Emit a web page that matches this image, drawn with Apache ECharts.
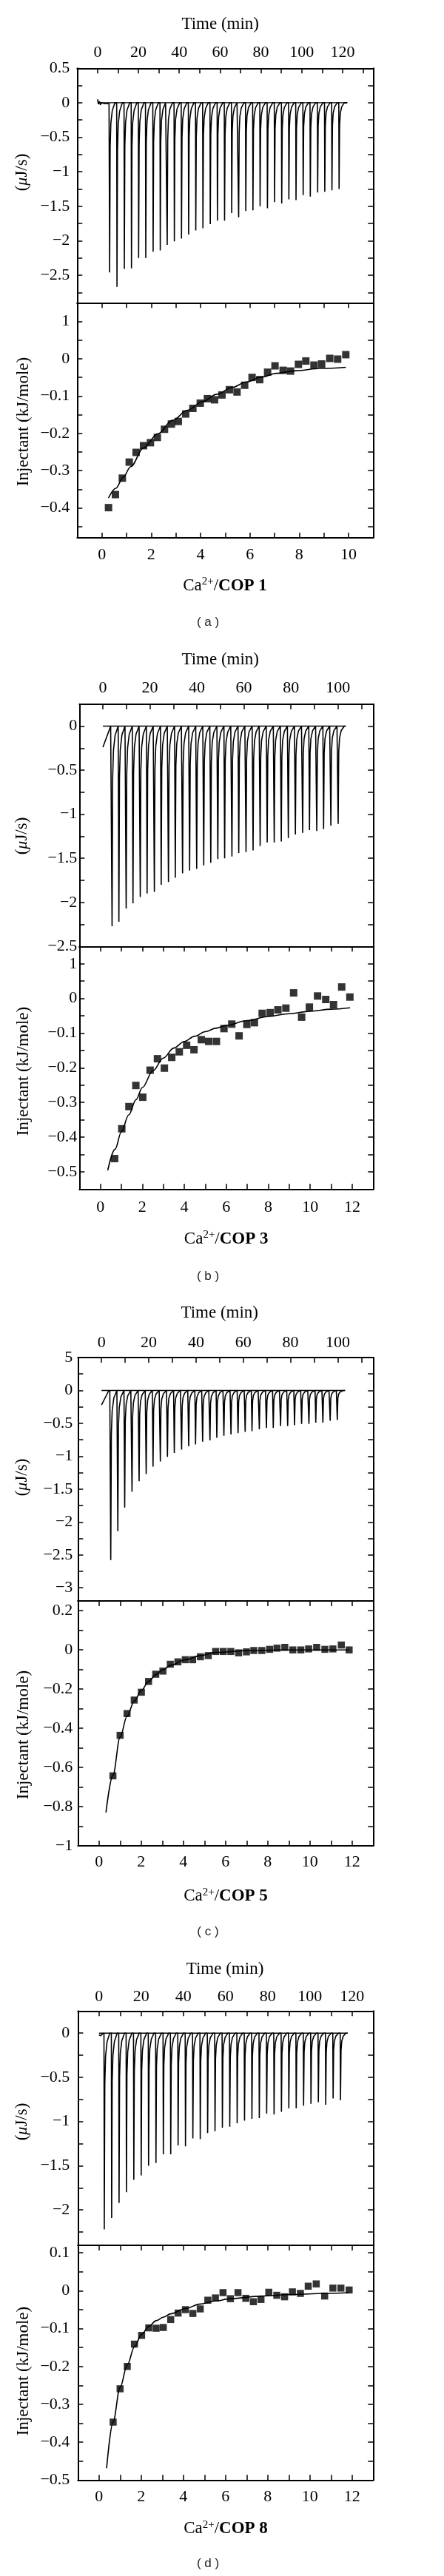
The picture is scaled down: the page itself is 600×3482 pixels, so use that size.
<!DOCTYPE html>
<html>
<head>
<meta charset="utf-8">
<script src="https://cdn.jsdelivr.net/npm/echarts@6.0.0/dist/echarts.min.js"></script>
<style>html,body{margin:0;padding:0;background:#fff}#c{width:600px;height:3482px}</style>
</head>
<body>
<div id="c"></div>
<script>
// ---------------- DATA ----------------
// Panel (a) – COP 1
const aPreT = [0, 0.4, 0.9, 1.4, 1.9, 2.5, 3.1, 3.7, 4.3, 5.0, 5.6];
const aPreV = [0.05, -0.02, 0.02, -0.03, 0.0, -0.02, -0.01, -0.02, -0.01, -0.02, -0.01];
const aSpikeT = [5.9, 9.5, 13.1, 16.6, 20.1, 23.6, 27.2, 30.7, 34.1, 37.6, 41.1, 44.6, 48.1, 51.6, 55.2, 58.7, 62.2, 65.7, 69.1, 72.6, 76.1, 79.6, 83.2, 86.7, 90.2, 93.7, 97.2, 100.7, 104.2, 107.8, 111.3, 114.8, 118.3];
const aSpikeD = [-2.46, -2.67, -2.41, -2.40, -2.25, -2.25, -2.16, -2.14, -2.06, -2.01, -1.97, -1.91, -1.85, -1.82, -1.76, -1.71, -1.71, -1.60, -1.66, -1.57, -1.56, -1.50, -1.53, -1.44, -1.46, -1.40, -1.41, -1.34, -1.36, -1.30, -1.29, -1.27, -1.25];
const aBase = [0, 122.3];
const aX = [0.27, 0.55, 0.83, 1.11, 1.39, 1.69, 1.97, 2.25, 2.54, 2.82, 3.10, 3.40, 3.69, 3.99, 4.28, 4.57, 4.87, 5.17, 5.48, 5.79, 6.09, 6.40, 6.72, 7.02, 7.35, 7.65, 7.97, 8.27, 8.60, 8.91, 9.24, 9.56, 9.89];
const aY = [-0.399, -0.364, -0.320, -0.277, -0.251, -0.233, -0.225, -0.211, -0.189, -0.175, -0.168, -0.148, -0.133, -0.119, -0.107, -0.110, -0.097, -0.083, -0.089, -0.071, -0.050, -0.056, -0.036, -0.019, -0.031, -0.033, -0.015, -0.006, -0.017, -0.014, 0.001, -0.001, 0.011];
const aFitX = [0.27, 0.57, 0.87, 1.17, 1.69, 2.27, 2.87, 3.47, 4.07, 4.67, 5.27, 5.87, 6.47, 7.07, 7.87, 8.87, 9.89];
const aFitY = [-0.373, -0.347, -0.317, -0.289, -0.239, -0.201, -0.165, -0.138, -0.115, -0.095, -0.077, -0.062, -0.049, -0.039, -0.032, -0.026, -0.023];

// Panel (b) – COP 3
const bPreT = [0, 3.3];
const bPreV = [-0.24, 0];
const bSpikeT = [3.9, 6.8, 9.9, 12.8, 15.9, 18.8, 21.9, 24.8, 27.9, 30.8, 33.9, 36.9, 39.9, 42.9, 45.9, 48.9, 51.8, 54.9, 57.8, 60.9, 63.9, 66.9, 69.9, 72.9, 75.9, 78.9, 81.9, 85.0, 87.9, 91.0, 93.9, 97.0, 100.1];
const bSpikeD = [-2.27, -2.22, -2.07, -2.01, -1.94, -1.90, -1.88, -1.80, -1.77, -1.72, -1.67, -1.64, -1.62, -1.58, -1.55, -1.51, -1.50, -1.48, -1.44, -1.43, -1.41, -1.36, -1.32, -1.32, -1.31, -1.27, -1.23, -1.21, -1.18, -1.19, -1.17, -1.13, -1.11];
const bBase = [0, 103.3];
const bX = [0.68, 1.02, 1.36, 1.69, 2.02, 2.37, 2.72, 3.05, 3.40, 3.76, 4.11, 4.46, 4.81, 5.16, 5.53, 5.89, 6.26, 6.61, 6.98, 7.34, 7.71, 8.09, 8.46, 8.84, 9.21, 9.59, 9.96, 10.35, 10.74, 11.11, 11.50, 11.89];
const bY = [-0.462, -0.376, -0.312, -0.251, -0.285, -0.207, -0.174, -0.201, -0.170, -0.154, -0.135, -0.148, -0.119, -0.124, -0.124, -0.087, -0.074, -0.108, -0.075, -0.070, -0.043, -0.041, -0.033, -0.028, 0.016, -0.054, -0.025, 0.007, -0.003, -0.018, 0.033, 0.004];
const bFitX = [0.35, 0.7, 1.0, 1.35, 1.7, 2.0, 2.5, 3.0, 3.5, 4.0, 4.5, 5.0, 5.5, 6.0, 7.0, 8.0, 9.0, 10.0, 11.0, 11.9];
const bFitY = [-0.496, -0.435, -0.385, -0.336, -0.292, -0.257, -0.209, -0.172, -0.143, -0.124, -0.109, -0.096, -0.086, -0.078, -0.064, -0.052, -0.044, -0.037, -0.031, -0.027];

// Panel (c) – COP 5
const cPreT = [0, 2.8, 3.5];
const cPreV = [-0.22, -0.02, 0];
const cSpikeT = [3.9, 6.9, 9.8, 12.9, 15.9, 18.9, 21.8, 24.9, 27.9, 30.8, 33.9, 36.9, 39.8, 42.8, 45.9, 48.8, 51.8, 54.8, 57.8, 60.8, 63.7, 66.8, 69.8, 72.7, 75.8, 78.8, 81.7, 84.7, 87.8, 90.7, 93.7, 96.8, 99.8];
const cSpikeD = [-2.58, -2.14, -1.78, -1.54, -1.38, -1.27, -1.16, -1.08, -1.01, -0.95, -0.90, -0.85, -0.82, -0.78, -0.76, -0.72, -0.69, -0.67, -0.65, -0.63, -0.62, -0.59, -0.57, -0.57, -0.54, -0.54, -0.53, -0.51, -0.51, -0.49, -0.49, -0.46, -0.45];
const cBase = [0, 103.1];
const cX = [0.66, 1.00, 1.33, 1.67, 2.01, 2.35, 2.69, 3.03, 3.38, 3.74, 4.09, 4.44, 4.81, 5.18, 5.53, 5.89, 6.25, 6.62, 6.99, 7.34, 7.72, 8.09, 8.44, 8.81, 9.19, 9.57, 9.94, 10.32, 10.71, 11.09, 11.49, 11.86];
const cY = [-0.643, -0.436, -0.325, -0.256, -0.216, -0.161, -0.124, -0.108, -0.073, -0.061, -0.050, -0.050, -0.035, -0.029, -0.008, -0.008, -0.008, -0.015, -0.010, -0.003, -0.003, 0.003, 0.009, 0.013, 0.000, 0.000, 0.005, 0.013, 0.003, 0.005, 0.025, 0.000];
const cFitX = [0.33, 0.66, 1.0, 1.33, 1.67, 2.01, 2.35, 2.69, 3.03, 3.38, 4.09, 4.81, 5.53, 6.99, 8.5, 10.0, 11.86];
const cFitY = [-0.830, -0.640, -0.445, -0.338, -0.262, -0.206, -0.161, -0.126, -0.101, -0.079, -0.050, -0.029, -0.013, -0.004, 0.0, 0.0, 0.0];

// Panel (d) – COP 8
const dPreT = [0, 0.8, 1.6, 2.3];
const dPreV = [-0.02, -0.03, -0.01, -0.01];
const dSpikeT = [2.5, 6.0, 9.5, 13.0, 16.5, 20.0, 23.5, 27.0, 30.5, 34.0, 37.5, 41.0, 44.5, 48.0, 51.5, 55.0, 58.5, 62.0, 65.5, 69.0, 72.5, 76.0, 79.5, 83.0, 86.5, 90.0, 93.5, 97.0, 100.5, 104.0, 107.5, 111.0, 114.5];
const dSpikeD = [-2.22, -2.09, -1.92, -1.80, -1.66, -1.61, -1.50, -1.47, -1.37, -1.37, -1.27, -1.28, -1.19, -1.20, -1.13, -1.11, -1.07, -1.06, -1.02, -0.99, -0.97, -0.96, -0.91, -0.92, -0.89, -0.85, -0.85, -0.82, -0.80, -0.78, -0.81, -0.74, -0.76];
const dBase = [0, 117.9];
const dX = [0.67, 1.00, 1.34, 1.68, 2.02, 2.36, 2.71, 3.05, 3.40, 3.75, 4.10, 4.45, 4.80, 5.16, 5.52, 5.88, 6.23, 6.59, 6.96, 7.32, 7.68, 8.05, 8.43, 8.80, 9.17, 9.55, 9.92, 10.30, 10.70, 11.09, 11.47, 11.86];
const dY = [-0.347, -0.259, -0.200, -0.141, -0.118, -0.098, -0.099, -0.097, -0.076, -0.059, -0.050, -0.060, -0.048, -0.025, -0.019, -0.005, -0.021, -0.005, -0.020, -0.029, -0.023, -0.004, -0.012, -0.016, -0.003, -0.007, 0.012, 0.018, -0.014, 0.007, 0.007, 0.002];
const dFitX = [0.36, 0.67, 1.0, 1.34, 1.68, 2.02, 2.36, 2.71, 3.05, 3.40, 4.10, 4.80, 5.52, 6.23, 7.68, 9.17, 10.70, 11.86];
const dFitY = [-0.469, -0.346, -0.255, -0.196, -0.148, -0.115, -0.094, -0.079, -0.070, -0.061, -0.047, -0.035, -0.027, -0.021, -0.014, -0.010, -0.007, -0.005];

// Injection peak shape (time offsets in min, fraction of peak depth)
const spikeDt = [-0.15, 0, 0.25, 0.6, 1.3, 2.6];
const spikeFrac = [0, 1, 0.26, 0.12, 0.045, 0];

// Tick labels
const aTimeTicks = [0, 20, 40, 60, 80, 100, 120];
const aTopYTicks = [0.5, 0, -0.5, -1, -1.5, -2, -2.5];
const aTopYLabels = ['0.5', '0', '−0.5', '−1', '−1.5', '−2', '−2.5'];
const aBotYTicks = [0.1, 0, -0.1, -0.2, -0.3, -0.4];
const aBotYLabels = ['1', '0', '−0.1', '−0.2', '−0.3', '−0.4'];
const aRatioTicks = [0, 2, 4, 6, 8, 10];

const bTimeTicks = [0, 20, 40, 60, 80, 100];
const bTopYTicks = [0, -0.5, -1, -1.5, -2, -2.5];
const bTopYLabels = ['0', '−0.5', '−1', '−1.5', '−2', '−2.5'];
const bBotYTicks = [0.1, 0, -0.1, -0.2, -0.3, -0.4, -0.5];
const bBotYLabels = ['1', '0', '−0.1', '−0.2', '−0.3', '−0.4', '−0.5'];
const bRatioTicks = [0, 2, 4, 6, 8, 10, 12];

const cTimeTicks = [0, 20, 40, 60, 80, 100];
const cTopYTicks = [0.5, 0, -0.5, -1, -1.5, -2, -2.5, -3];
const cTopYLabels = ['5', '0', '−0.5', '−1', '−1.5', '−2', '−2.5', '−3'];
const cBotYTicks = [0.2, 0, -0.2, -0.4, -0.6, -0.8, -1];
const cBotYLabels = ['0.2', '0', '−0.2', '−0.4', '−0.6', '−0.8', '−1'];
const cRatioTicks = [0, 2, 4, 6, 8, 10, 12];

const dTimeTicks = [0, 20, 40, 60, 80, 100, 120];
const dTopYTicks = [0, -0.5, -1, -1.5, -2];
const dTopYLabels = ['0', '−0.5', '−1', '−1.5', '−2'];
const dBotYTicks = [0.1, 0, -0.1, -0.2, -0.3, -0.4, -0.5];
const dBotYLabels = ['0.1', '0', '−0.1', '−0.2', '−0.3', '−0.4', '−0.5'];
const dRatioTicks = [0, 2, 4, 6, 8, 10, 12];

const panelTags = ['( a )', '( b )', '( c )', '( d )'];
const copNames = ['COP 1', 'COP 3', 'COP 5', 'COP 8'];

// ---------------- BUILD ----------------
const FONT = '"Liberation Serif","Times New Roman",serif';
function steps(a, b, s) { const r = []; const n = Math.round((b - a) / s); for (let i = 0; i <= n; i++) r.push(+(a + i * s).toFixed(6)); return r; }
function numLabels(v) { return v.map(x => String(x).replace('-', '−')); }
function zip(x, y) { return x.map((v, i) => [v, y[i]]); }
function buildTrace(preT, preV, T, D, end) {
  const pts = zip(preT, preV);
  T.forEach((t, i) => spikeDt.forEach((dt, j) => pts.push([t + dt, D[i] * spikeFrac[j]])));
  pts.push([end, 0]);
  return pts;
}

const panels = [
  { L: {top: 92.3, mid: 409.3, bot: 727, left: 104.3, yMargin: 10, xtMargin: 10, xbMargin: 12},
    tx: [-10, 135], ty: [-2.9, 0.5], bx: [-1, 11], by: [-0.48, 0.15],
    txTicks: steps(0, 130, 10), tyTicks: steps(-2.75, 0.25, 0.25), bxTicks: steps(0, 10, 1), byTicks: steps(-0.45, 0.1, 0.05),
    txLab: [aTimeTicks, numLabels(aTimeTicks)], tyLab: [aTopYTicks, aTopYLabels], bxLab: [aRatioTicks, numLabels(aRatioTicks)], byLab: [aBotYTicks, aBotYLabels],
    trace: buildTrace(aPreT, aPreV, aSpikeT, aSpikeD, aBase[1]), base: aBase, pts: zip(aX, aY), fit: zip(aFitX, aFitY), sym: 10,
    titleTop: [297.7, 33], titleBot: [304, 791.7], tag: [281, 841.7], yName1: 233, yName2: 570 },
  { L: {top: 951.7, mid: 1279.3, bot: 1607.3, left: 107.3, yMargin: 3, xtMargin: 10, xbMargin: 14},
    tx: [-10, 115], ty: [-2.5, 0.25], bx: [-1, 13], by: [-0.55, 0.15],
    txTicks: steps(0, 110, 10), tyTicks: steps(-2.25, 0, 0.25), bxTicks: steps(0, 12, 1), byTicks: steps(-0.5, 0.1, 0.05),
    txLab: [bTimeTicks, numLabels(bTimeTicks)], tyLab: [bTopYTicks, bTopYLabels], bxLab: [bRatioTicks, numLabels(bRatioTicks)], byLab: [bBotYTicks, bBotYLabels],
    trace: buildTrace(bPreT, bPreV, bSpikeT, bSpikeD, bBase[1]), base: bBase, pts: zip(bX, bY), fit: zip(bFitX, bFitY), sym: 10,
    titleTop: [297.7, 891.7], titleBot: [305.7, 1675], tag: [281, 1725], yName1: 1130, yName2: 1448 },
  { L: {top: 1835, mid: 2164, bot: 2495, left: 105.3, yMargin: 7, xtMargin: 9, xbMargin: 11},
    tx: [-10, 115], ty: [-3.2, 0.5], bx: [-1, 13], by: [-1, 0.25],
    txTicks: steps(0, 110, 10), tyTicks: steps(-3, 0.25, 0.25), bxTicks: steps(0, 12, 1), byTicks: steps(-0.9, 0.2, 0.1),
    txLab: [cTimeTicks, numLabels(cTimeTicks)], tyLab: [cTopYTicks, cTopYLabels], bxLab: [cRatioTicks, numLabels(cRatioTicks)], byLab: [cBotYTicks, cBotYLabels],
    trace: buildTrace(cPreT, cPreV, cSpikeT, cSpikeD, cBase[1]), base: cBase, pts: zip(cX, cY), fit: zip(cFitX, cFitY), sym: 9.5,
    titleTop: [296.7, 1775], titleBot: [305, 2563.3], tag: [281, 2611.7], yName1: 1997, yName2: 2345 },
  { L: {top: 2718.3, mid: 3035, bot: 3352.3, left: 105.3, yMargin: 11, xtMargin: 8, xbMargin: 12},
    tx: [-10, 130], ty: [-2.4, 0.25], bx: [-1, 13], by: [-0.5, 0.12],
    txTicks: steps(0, 120, 10), tyTicks: steps(-2.25, 0, 0.25), bxTicks: steps(0, 12, 1), byTicks: steps(-0.45, 0.1, 0.05),
    txLab: [dTimeTicks, numLabels(dTimeTicks)], tyLab: [dTopYTicks, dTopYLabels], bxLab: [dRatioTicks, numLabels(dRatioTicks)], byLab: [dBotYTicks, dBotYLabels],
    trace: buildTrace(dPreT, dPreV, dSpikeT, dSpikeD, dBase[1]), base: dBase, pts: zip(dX, dY), fit: zip(dFitX, dFitY), sym: 9.5,
    titleTop: [304, 2661.7], titleBot: [305, 3418.3], tag: [281, 3465], yName1: 2868, yName2: 3205 }
];

function mkAxis(gi, pos, range, ticks, lab, margin) {
  return {
    type: 'value', gridIndex: gi, position: pos, min: range[0], max: range[1],
    splitLine: {show: false}, minorTick: {show: false}, minorSplitLine: {show: false},
    axisLine: {show: true, onZero: false, lineStyle: {color: '#000', width: 2}},
    axisTick: ticks ? {show: true, inside: true, length: 7, customValues: ticks, lineStyle: {color: '#000', width: 1.5}} : {show: false},
    axisLabel: lab ? {show: true, customValues: lab[0], margin: margin, color: '#000', fontFamily: FONT, fontSize: 22,
      formatter: v => { const i = lab[0].findIndex(x => Math.abs(x - v) < 1e-9); return i >= 0 ? lab[1][i] : ''; }} : {show: false},
    axisPointer: {show: false}
  };
}

const grid = [], xAxis = [], yAxis = [], series = [], graphic = [];
const richBase = {
  r: {fontFamily: FONT, fontSize: 23, fill: '#000', lineHeight: 30},
  s: {fontFamily: FONT, fontSize: 15, fill: '#000', lineHeight: 30, verticalAlign: 'top', padding: [2, 0, 0, 0]},
  b: {fontFamily: FONT, fontSize: 23, fontWeight: 'bold', fill: '#000', lineHeight: 30},
  i: {fontFamily: FONT, fontSize: 22, fontStyle: 'italic', fill: '#000', lineHeight: 30}
};
function txt(x, y, text, opts) {
  return Object.assign({type: 'text', x: x, y: y, silent: true,
    style: Object.assign({text: text, fill: '#000', font: '23px ' + FONT, align: 'center', verticalAlign: 'middle', textAlign: 'center', textVerticalAlign: 'middle'}, opts || {})});
}

panels.forEach((p, k) => {
  const gT = 2 * k, gB = 2 * k + 1, L = p.L;
  grid.push({left: L.left, right: 95.7, top: L.top, height: L.mid - L.top, outerBoundsMode: 'none', containLabel: false});
  grid.push({left: L.left, right: 95.7, top: L.mid, height: L.bot - L.mid, outerBoundsMode: 'none', containLabel: false});
  // top grid axes
  xAxis.push(mkAxis(gT, 'top', p.tx, p.txTicks, p.txLab, L.xtMargin));
  xAxis.push(mkAxis(gT, 'bottom', p.tx, null, null, 0));
  yAxis.push(mkAxis(gT, 'left', p.ty, p.tyTicks, p.tyLab, L.yMargin));
  yAxis.push(mkAxis(gT, 'right', p.ty, p.tyTicks, null, 0));
  // bottom grid axes
  xAxis.push(mkAxis(gB, 'bottom', p.bx, p.bxTicks, p.bxLab, L.xbMargin));
  xAxis.push(mkAxis(gB, 'top', p.bx, p.bxTicks, null, 0));
  yAxis.push(mkAxis(gB, 'left', p.by, p.byTicks, p.byLab, L.yMargin));
  yAxis.push(mkAxis(gB, 'right', p.by, p.byTicks, null, 0));

  const xT = 2 * gT, xB = 2 * gB;
  series.push({type: 'line', xAxisIndex: xT, yAxisIndex: xT, data: [[p.base[0], 0], [p.base[1], 0]], symbol: 'none', lineStyle: {color: '#000', width: 1.4}, z: 2});
  series.push({type: 'line', xAxisIndex: xT, yAxisIndex: xT, data: p.trace, symbol: 'none', lineStyle: {color: '#000', width: 1.6}, z: 3});
  series.push({type: 'line', xAxisIndex: xB, yAxisIndex: xB, data: p.fit, symbol: 'none', smooth: 0.35, smoothMonotone: 'x', lineStyle: {color: '#000', width: 1.6}, z: 3});
  series.push({type: 'scatter', xAxisIndex: xB, yAxisIndex: xB, data: p.pts, symbol: 'rect', symbolSize: p.sym, itemStyle: {color: '#000'}, z: 4});

  graphic.push(txt(p.titleTop[0], p.titleTop[1], 'Time (min)'));
  graphic.push(txt(p.titleBot[0], p.titleBot[1], '{r|Ca}{s|2+}{r|/}{b|' + copNames[k] + '}', {rich: richBase, font: '23px ' + FONT}));
  graphic.push(Object.assign(txt(30, p.yName1, '{r|(}{i|μ}{r|J/s)}', {rich: richBase}), {rotation: Math.PI / 2}));
  graphic.push(Object.assign(txt(31.7, p.yName2, 'Injectant (kJ/mole)', {font: '23px ' + FONT}), {rotation: Math.PI / 2}));
  graphic.push(txt(p.tag[0], p.tag[1], panelTags[k], {font: '17px "Liberation Sans", Arial, sans-serif', fill: '#222'}));
});

const chart = echarts.init(document.getElementById('c'), null, {renderer: 'canvas', width: 600, height: 3482});
chart.setOption({
  animation: false,
  backgroundColor: '#fff',
  grid: grid, xAxis: xAxis, yAxis: yAxis, series: series,
  graphic: {elements: graphic},
  tooltip: {show: false}
});
</script>
</body>
</html>
